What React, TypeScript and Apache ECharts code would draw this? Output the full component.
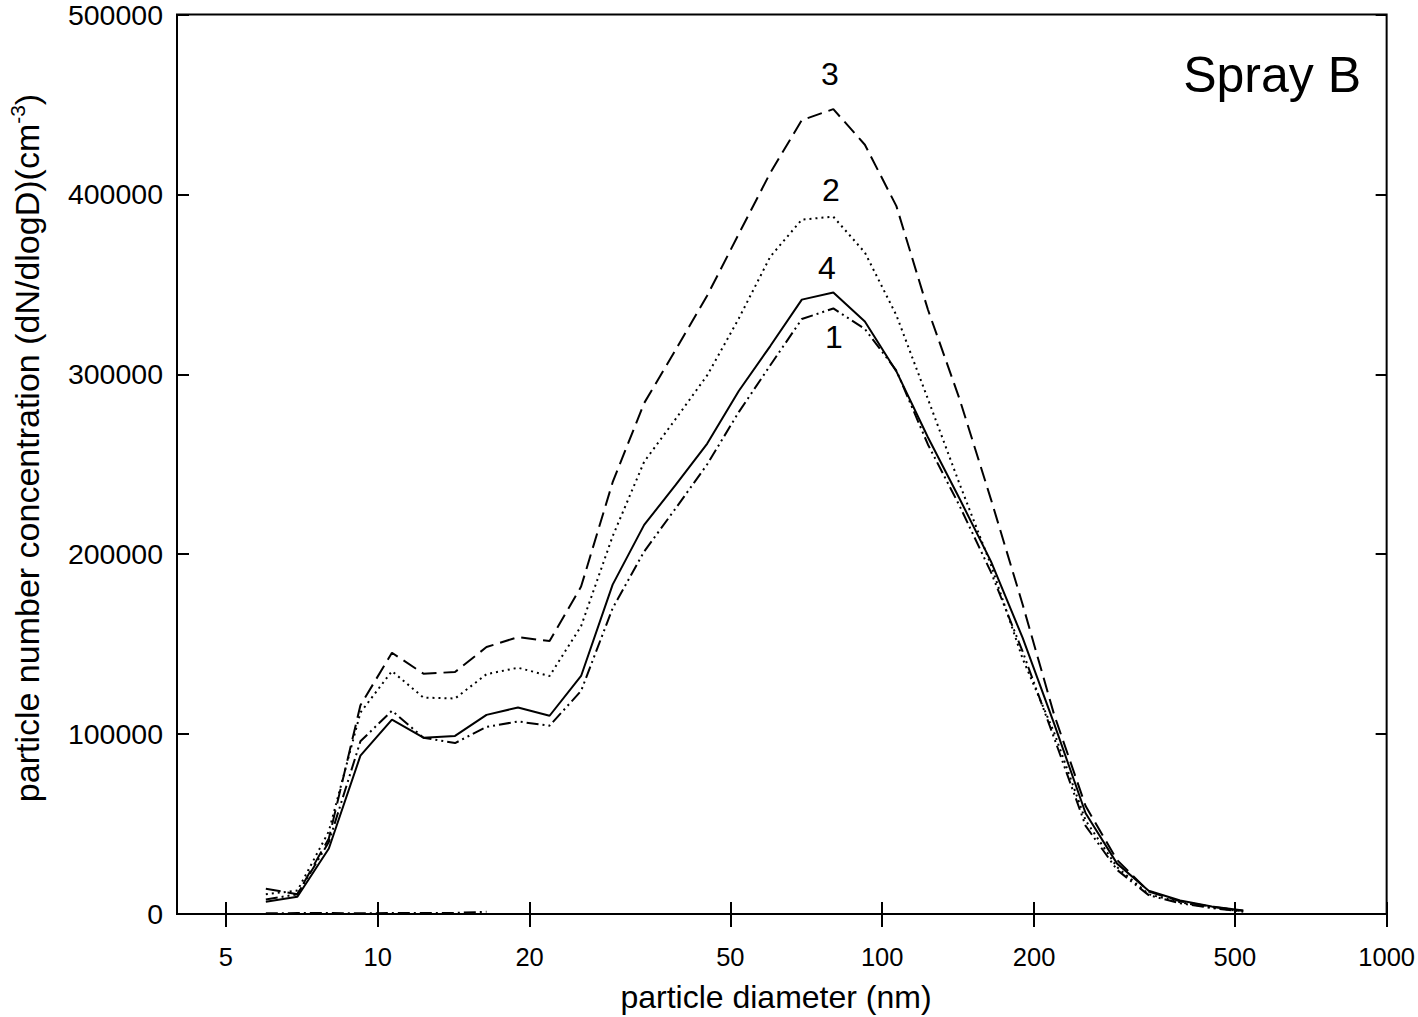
import React, { useEffect, useRef } from "react";
import * as echarts from "echarts";

const FONT = "'Liberation Sans', Arial, Helvetica, sans-serif";

// particle diameters (nm), SMPS channel midpoints
const diameters = [
  6.0, 6.93, 8.0, 9.24, 10.67, 12.32, 14.23, 16.43, 18.97, 21.91, 25.3, 29.22,
  33.74, 38.96, 45.0, 51.96, 60.0, 69.29, 80.01, 92.4, 106.7, 123.2, 142.3,
  164.3, 189.8, 219.1, 253.1, 292.2, 337.5, 389.7, 450.0, 519.7,
];

// curve 1 (dash-dot-dot)
const curve1 = [
  8000, 11000, 40000, 96000, 113000, 98000, 95000, 104000, 107000, 104700,
  124000, 170000, 201500, 225500, 250000, 279000, 305000, 330700, 336600,
  325200, 302100, 261000, 227000, 190000, 146000, 98000, 49000, 24500, 10500,
  6000, 3300, 1300,
];
// curve 2 (dotted)
const curve2 = [
  11000, 13000, 46000, 112000, 135000, 120300, 119800, 133300, 136900, 132300,
  160000, 210000, 251400, 275200, 299500, 331000, 365400, 386000, 387600,
  367700, 332800, 286300, 239200, 194000, 142000, 101000, 52000, 26000, 11000,
  6500, 3600, 1500,
];
// curve 3 (dashed)
const curve3 = [
  14000, 11000, 42000, 116000, 145200, 133600, 134500, 148400, 153900, 151700,
  182000, 240000, 284000, 313600, 343800, 378000, 412000, 441300, 447400,
  427600, 393500, 336000, 286400, 230500, 172200, 111000, 60000, 30000, 12500,
  7000, 4000, 1800,
];
// curve 4 (solid)
const curve4 = [
  6800, 9600, 36400, 88000, 108000, 98000, 99000, 110700, 114800, 110200,
  132300, 183100, 216300, 238500, 261500, 290700, 315700, 341500, 345500,
  329300, 301600, 265000, 231000, 196000, 153600, 106000, 56000, 28000, 12900,
  7500, 4200, 2000,
];
// near-zero trace at the small-size end
const baseline = [400, 500, 500, 400, 500, 600, 600, 1200];

const xTickLabels = [5, 10, 20, 50, 100, 200, 500, 1000];
const X_MIN = 4;
const X_MAX = 1000;
const Y_MAX = 500000;
const Y_STEP = 100000;

const curveLabels = [
  { text: "3", x: 830, y: 74 },
  { text: "2", x: 831, y: 190 },
  { text: "4", x: 827, y: 268 },
  { text: "1", x: 834, y: 337 },
];

function pairs(vals: number[]) {
  return vals.map((v, i) => [diameters[i], v]);
}

export default function App() {
  const ref = useRef<HTMLDivElement>(null);

  useEffect(() => {
    const chart = echarts.init(ref.current!, null, { renderer: "svg" });
    const tickPos = xTickLabels.map((t) => Math.log10(t));
    const lmin = Math.log10(X_MIN);
    const lmax = Math.log10(X_MAX);
    const black = "#000";

    const valueXAxis = (inside: boolean, len: number, labels: boolean) => ({
      type: "value",
      min: lmin,
      max: lmax,
      position: "bottom",
      axisLine: { show: false },
      splitLine: { show: false },
      axisTick: {
        show: true,
        inside,
        length: len,
        customValues: tickPos,
        lineStyle: { color: black, width: 2 },
      },
      axisLabel: labels
        ? {
            show: true,
            customValues: tickPos,
            margin: 30,
            fontSize: 25.5,
            fontFamily: FONT,
            color: black,
            formatter: (v: number) => String(Math.round(Math.pow(10, v))),
          }
        : { show: false },
    });

    const lineSeries = (name: string, vals: number[], type: any, width: number) => ({
      name,
      type: "line",
      xAxisIndex: 0,
      yAxisIndex: 0,
      data: pairs(vals),
      symbol: "none",
      smooth: false,
      lineStyle: { color: black, width, type },
      z: 3,
    });

    const option: any = {
      animation: false,
      backgroundColor: "#fff",
      grid: {
        left: 177,
        top: 11,
        right: 30,
        bottom: 103,
        show: true,
        borderColor: black,
        borderWidth: 2,
        backgroundColor: "transparent",
      },
      xAxis: [
        {
          type: "log",
          logBase: 10,
          min: X_MIN,
          max: X_MAX,
          axisLine: { show: false },
          axisTick: { show: false },
          axisLabel: { show: false },
          splitLine: { show: false },
          minorTick: { show: false },
        },
        valueXAxis(true, 12, false),
        valueXAxis(false, 13, true),
      ],
      yAxis: [
        {
          type: "value",
          min: 0,
          max: Y_MAX,
          interval: Y_STEP,
          axisLine: { show: false },
          splitLine: { show: false },
          axisTick: { show: true, inside: true, length: 12, lineStyle: { color: black, width: 2 } },
          axisLabel: {
            margin: 14,
            fontSize: 28.5,
            fontFamily: FONT,
            color: black,
            formatter: (v: number) => String(v),
          },
        },
        {
          type: "value",
          position: "right",
          min: 0,
          max: Y_MAX,
          interval: Y_STEP,
          axisLine: { show: false },
          splitLine: { show: false },
          axisTick: { show: true, inside: true, length: 11, lineStyle: { color: black, width: 2 } },
          axisLabel: { show: false },
        },
      ],
      series: [
        lineSeries("4", curve4, "solid", 2),
        lineSeries("1", curve1, [12, 4, 2, 4, 2, 4], 2),
        lineSeries("2", curve2, [2, 4], 2),
        lineSeries("3", curve3, [15, 7], 2),
        {
          ...lineSeries("baseline", baseline, [12, 4, 2, 4], 2),
          data: baseline.map((v, i) => [diameters[i], v]),
        },
      ],
      graphic: [
        ...curveLabels.map((l) => ({
          type: "text",
          x: l.x,
          y: l.y,
          style: {
            text: l.text,
            font: `32px ${FONT}`,
            fill: black,
            textAlign: "center",
            textVerticalAlign: "middle",
          },
        })),
        {
          type: "text",
          x: 1361,
          y: 75,
          style: {
            text: "Spray B",
            font: `50px ${FONT}`,
            fill: black,
            textAlign: "right",
            textVerticalAlign: "middle",
          },
        },
        {
          type: "text",
          x: 776,
          y: 997,
          style: {
            text: "particle diameter (nm)",
            font: `32px ${FONT}`,
            fill: black,
            textAlign: "center",
            textVerticalAlign: "middle",
          },
        },
        {
          type: "text",
          x: 27,
          y: 448,
          rotation: Math.PI / 2,
          style: {
            text: "{a|particle number concentration (dN/dlogD)(cm}{s|-3}{a|)}",
            fill: black,
            textAlign: "center",
            textVerticalAlign: "middle",
            rich: {
              a: { fontSize: 34, fontFamily: FONT, fill: black, lineHeight: 40 },
              s: { fontSize: 21, fontFamily: FONT, fill: black, lineHeight: 40, verticalAlign: "top" },
            },
          },
        },
      ],
    };

    chart.setOption(option);
    return () => chart.dispose();
  }, []);

  return (
    <div
      ref={ref}
      style={{ position: "absolute", left: 0, top: 0, width: 1418, height: 1017, background: "#fff" }}
    />
  );
}
